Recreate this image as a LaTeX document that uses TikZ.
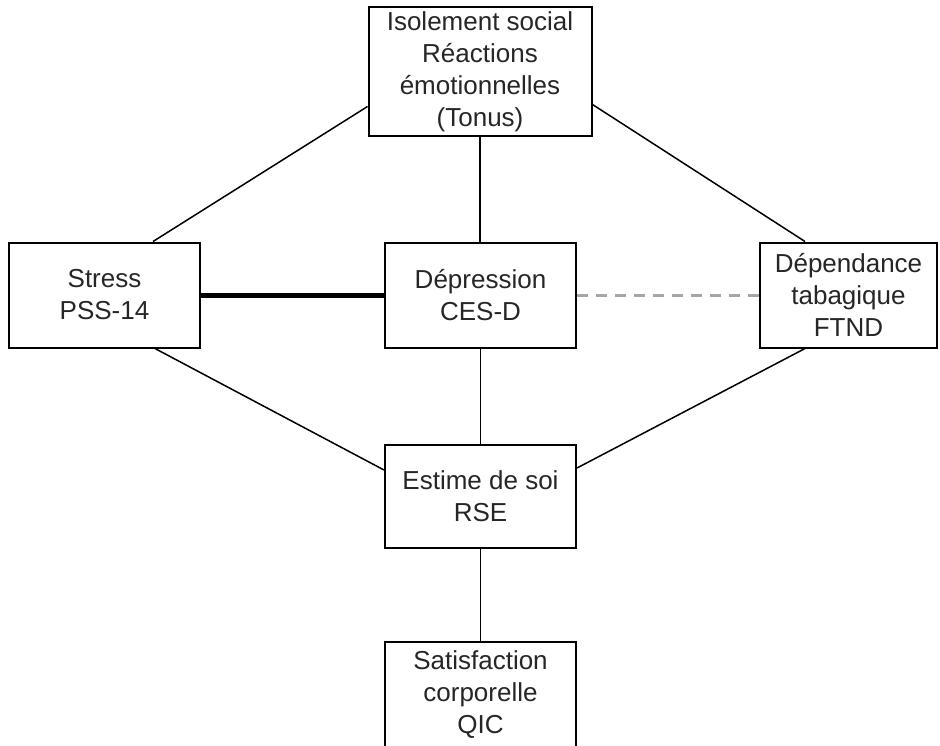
\documentclass[tikz,border=0pt]{standalone}
\usepackage{fontspec}
\setmainfont{Liberation Sans}
\usetikzlibrary{positioning, calc}

\tikzset{
  box/.style={draw=black, line width=2pt, fill=white, align=center, inner sep=0pt,
    minimum width=191pt, minimum height=105pt,
    font=\fontsize{26}{32}\selectfont, text=black!85},
  link/.style={line width=1.5pt},
  strong/.style={line width=5pt},
  weak/.style={line width=3pt, gray!70, dash pattern=on 11pt off 8pt},
}

\begin{document}
\begin{tikzpicture}[x=1pt, y=-1pt]
    \useasboundingbox (0,0) rectangle (940,745);

    % Variables
    \node[box, minimum width=223pt, minimum height=129pt] (iso) at (480,71.5)
        {Isolement social\\Réactions\\émotionnelles\\(Tonus)};
    \node[box] (stress) at (104.5,295) {Stress\\PSS-14};
    \node[box] (dep) at (480.5,295) {Dépression\\CES-D};
    \node[box, minimum width=177pt] (ftnd) at (848.5,295) {Dépendance\\tabagique\\FTND};
    \node[box, minimum height=103pt] (rse) at (480.5,496.5) {Estime de soi\\RSE};
    \node[box] (qic) at (480.5,694.5) {Satisfaction\\corporelle\\QIC};

    % Links
    \draw[link] ([yshift=-35pt]iso.west) -- ([xshift=48.5pt]stress.north);
    \draw[link] ([yshift=-33pt]iso.east) -- ([xshift=-43.5pt]ftnd.north);
    \draw[link] (iso) -- (iso |- dep.north);
    \draw[strong] (stress) -- (dep);
    \draw[weak] (dep) -- (ftnd);
    \draw[link] (dep) -- (rse);
    \draw[link] ([xshift=50.5pt]stress.south) -- ([yshift=26.5pt]rse.west);
    \draw[link] ([xshift=-43.5pt]ftnd.south) -- ([yshift=28.5pt]rse.east);
    \draw[link] (rse) -- (qic);
\end{tikzpicture}
\end{document}
